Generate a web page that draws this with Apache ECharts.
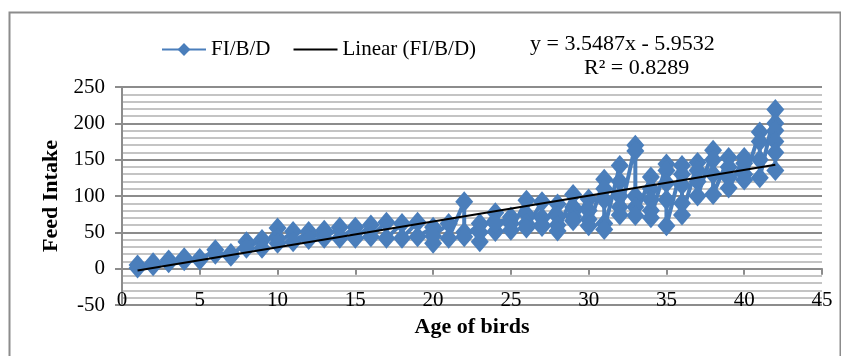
<!DOCTYPE html>
<html>
<head>
<meta charset="utf-8">
<script src="https://cdn.jsdelivr.net/npm/echarts@6/dist/echarts.min.js"></script>
<style>
html,body{margin:0;padding:0;background:#fff;}
#chart{width:841px;height:356px;}
</style>
</head>
<body>
<div id="chart"></div>
<script>
// Age of birds (days) for each observation, in plotting order
var ageOfBirds = [
  1,1, 2,2, 3,3, 4,4, 5,5, 6,6, 7,7, 8,8, 9,9, 10,10,10,
  11,11, 12,12, 13,13, 14,14, 15,15, 16,16, 17,17, 18,18, 19,19, 20,20,20,
  21,21, 22,22,22, 23,23,23, 24,24,24, 25,25,25, 26,26,26,26, 27,27,27,27,
  28,28,28,28, 29,29,29,29, 30,30,30,30, 31,31,31,31,31, 32,32,32,32,32,
  33,33,33,33,33, 34,34,34,34,34, 35,35,35,35,35, 36,36,36,36,36,
  37,37,37,37, 38,38,38,38, 39,39,39,39, 40,40,40,40, 41,41,41,41,
  42,42,42,42,42,42
];
// Feed intake per bird per day (FI/B/D)
var feedIntake = [
  5,1, 8,4, 12,8, 15,11, 12,14, 26,20, 21,17, 37,28, 40,28, 56,42,35,
  51,37, 51,40, 53,42, 57,42, 57,42, 60,44, 64,42, 62,42, 64,44, 57,35,45,
  62,42, 92,50,44, 62,37,50, 77,51,62, 71,62,53, 94,75,62,56, 92,70,60,58,
  89,72,60,52, 102,85,72,66, 96,80,68,59, 123,110,95,62,54, 142,120,100,85,74,
  170,162,100,85,73, 126,110,95,80,70, 144,135,118,95,59, 142,130,115,90,74,
  146,135,120,100, 163,150,130,102, 153,140,125,111, 153,145,130,122, 188,175,150,125,
  219,200,190,175,160,135
];
// Linear trendline end points (y = 3.5487x - 5.9532)
var trendX = [1, 42];
var trendY = [-2.4, 143.1];

var xTicks = {min: 0, max: 45, interval: 5};
var yTicks = {min: -50, max: 250, interval: 50};

var seriesData = ageOfBirds.map(function (a, i) { return [a, feedIntake[i]]; });
var trendData = trendX.map(function (a, i) { return [a, trendY[i]]; });

var FONT = '"Liberation Serif", "Times New Roman", serif';
var chart = echarts.init(document.getElementById('chart'), null, {renderer: 'canvas'});
chart.setOption({
  animation: false,
  backgroundColor: '#fff',
  graphic: [
    {type: 'rect', left: 7, top: 10, shape: {x: 0, y: 0, width: 831, height: 370},
     style: {fill: 'none', stroke: '#8c8c8c', lineWidth: 2}, z: -10, silent: true},
    {type: 'text', left: 530, top: 33,
     style: {text: 'y = 3.5487x - 5.9532', font: '22px ' + FONT, fill: '#000'}},
    {type: 'text', left: 584, top: 57,
     style: {text: 'R\u00b2 = 0.8289', font: '22px ' + FONT, fill: '#000'}}
  ],
  legend: {
    left: 156, top: 34,
    itemWidth: 44, itemHeight: 16, itemGap: 22,
    textStyle: {fontFamily: FONT, fontSize: 21, color: '#000'},
    data: [
      {name: 'FI/B/D'},
      {name: 'Linear (FI/B/D)', itemStyle: {opacity: 0}}
    ]
  },
  grid: {left: 122, right: 19, top: 87, bottom: 51, containLabel: false},
  xAxis: [
    {
      type: 'value', min: xTicks.min, max: xTicks.max, interval: xTicks.interval,
      axisLine: {show: true, onZero: true, lineStyle: {color: '#8c8c8c', width: 2}},
      axisTick: {show: true, length: 6, lineStyle: {color: '#8c8c8c', width: 2}},
      axisLabel: {show: false},
      splitLine: {show: false}
    },
    {
      type: 'value', position: 'bottom', min: xTicks.min, max: xTicks.max, interval: xTicks.interval,
      axisLine: {show: false, onZero: false},
      axisTick: {show: false},
      axisLabel: {show: true, inside: true, margin: -6, fontFamily: FONT, fontSize: 21, color: '#000',
                  showMinLabel: true, showMaxLabel: true},
      splitLine: {show: false},
      name: 'Age of birds', nameLocation: 'middle', nameGap: 11,
      nameTextStyle: {fontFamily: FONT, fontSize: 22, fontWeight: 'bold', color: '#000'}
    }
  ],
  yAxis: {
    type: 'value', min: yTicks.min, max: yTicks.max, interval: yTicks.interval,
    axisLine: {show: true, onZero: false, lineStyle: {color: '#8c8c8c', width: 2}},
    axisTick: {show: true, length: 7, lineStyle: {color: '#8c8c8c', width: 2}},
    axisLabel: {margin: 17, fontFamily: FONT, fontSize: 21, color: '#000'},
    splitLine: {show: true, lineStyle: {color: '#8c8c8c', width: 2}},
    minorTick: {show: false, splitNumber: 5},
    minorSplitLine: {show: true, lineStyle: {color: '#c4c4c4', width: 2}},
    name: 'Feed Intake', nameLocation: 'middle', nameGap: 58, nameRotate: 90,
    nameTextStyle: {fontFamily: FONT, fontSize: 22, fontWeight: 'bold', color: '#000'}
  },
  series: [
    {
      name: 'FI/B/D', type: 'line', xAxisIndex: 0, data: seriesData,
      symbol: 'diamond', symbolSize: [18, 21], showSymbol: true,
      itemStyle: {color: '#4a7ebb'},
      lineStyle: {color: '#4a7ebb', width: 4},
      z: 2
    },
    {
      name: 'Linear (FI/B/D)', type: 'line', xAxisIndex: 0, data: trendData,
      symbol: 'none', showSymbol: false,
      itemStyle: {color: '#000'},
      lineStyle: {color: '#000', width: 2},
      z: 3
    }
  ]
});
</script>
</body>
</html>
